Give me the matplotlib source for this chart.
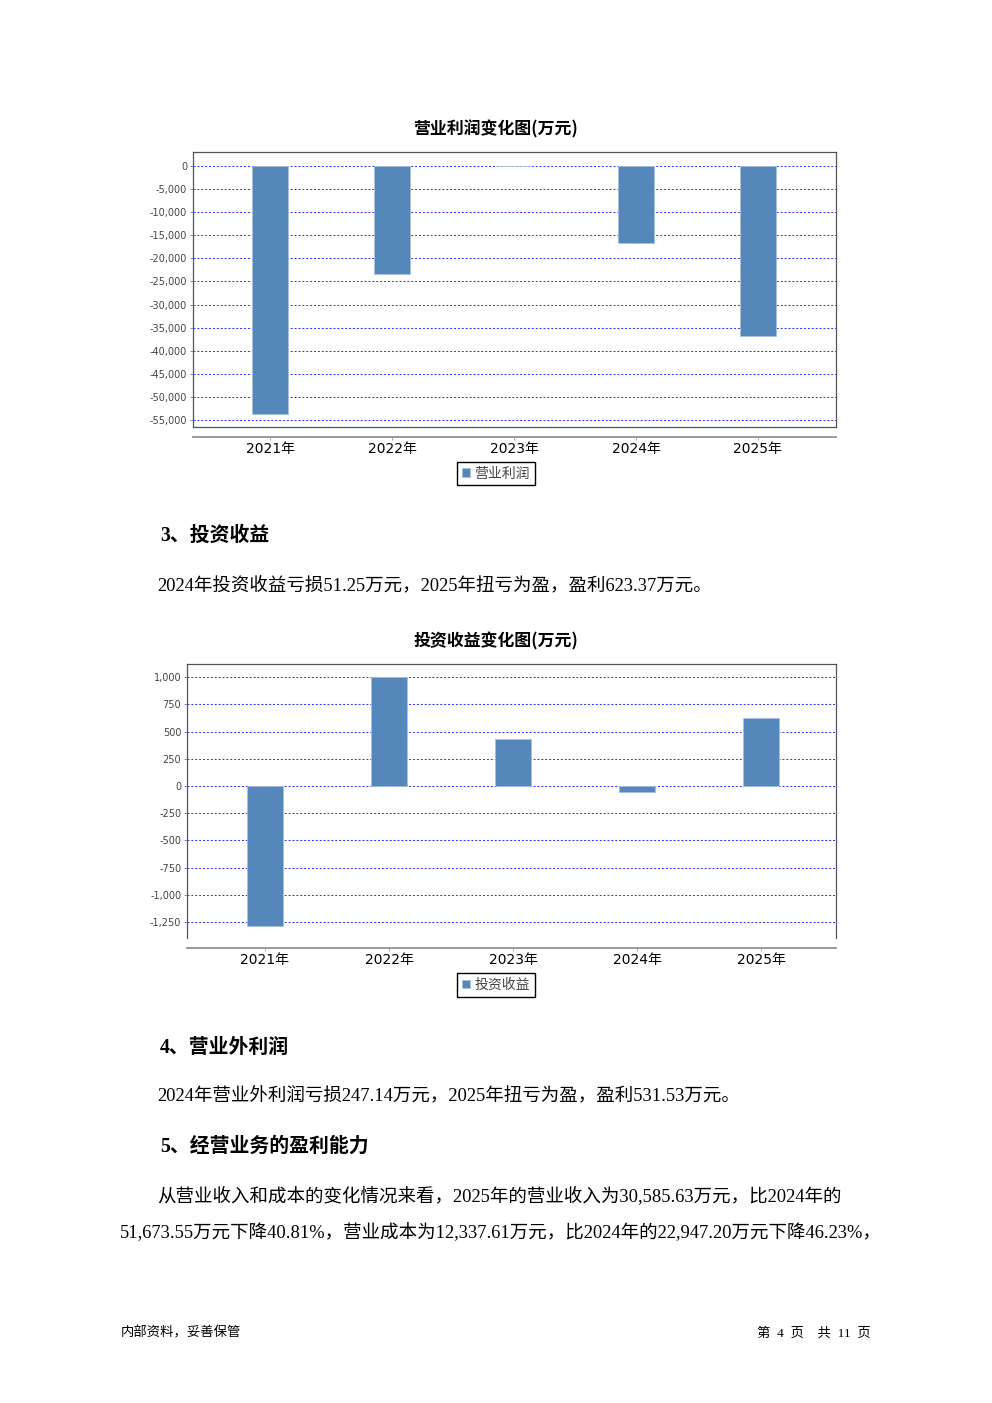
### Page with two bar charts (营业利润 / 投资收益) plus report text
import numpy as np
import matplotlib.pyplot as plt
from matplotlib.ticker import FuncFormatter

plt.rcParams['font.family'] = ['DejaVu Sans', 'Noto Sans CJK SC']
plt.rcParams['axes.unicode_minus'] = False

### Data
years       = ['2021年', '2022年', '2023年', '2024年', '2025年']
op_profit   = [-53600, -23500, -80, -16800, -36800]          # 营业利润 (万元)
inv_income  = [-1290, 1004, 432, -51.25, 623.37]             # 投资收益 (万元)
op_ticks    = list(range(0, -55001, -5000))
inv_ticks   = [1000, 750, 500, 250, 0, -250, -500, -750, -1000, -1250]

### Style
W, H        = 992, 1403
bar_color   = '#5587ba'
grid_color  = '#2a2aff'
cjk         = ['Noto Sans CJK SC', 'DejaVu Sans']
serif       = ['Liberation Serif', 'Noto Sans CJK SC']

fig = plt.figure(figsize=(W/100, H/100), dpi=100)

def rect(x0, y0, x1, y1):
    # pixel box -> figure fraction [left, bottom, width, height]
    return [x0/W, 1 - y1/H, (x1 - x0)/W, (y1 - y0)/H]

def bar_chart(box, values, ticks, ylim, xlim, title, title_y, label, legend_y, bottom_border):
    ax = fig.add_axes(rect(*box))
    x = np.arange(len(years))
    ax.bar(x, values, width=0.295, color=bar_color, edgecolor='#a9c1db',
           linewidth=0.6, label=label, zorder=2)
    ax.set_xlim(xlim)
    ax.set_ylim(ylim)
    ax.set_yticks(ticks)
    ax.yaxis.set_major_formatter(FuncFormatter(lambda v, p: f'{v:,.0f}'))
    ax.tick_params(axis='y', length=2, width=0.6, color='#777777', pad=2,
                   labelsize=7, labelcolor='#444444')
    ax.set_xticks(x)
    ax.set_xticklabels(years, fontsize=8, color='#333333')
    ax.tick_params(axis='x', length=2.5, width=0.6, color='#999999', pad=1.5)
    ax.grid(axis='y', color=grid_color, linestyle=(0, (2, 2)), linewidth=0.7)
    ax.set_axisbelow(True)
    for s in ['left', 'top', 'right']:
        ax.spines[s].set_color('#555555')
        ax.spines[s].set_linewidth(0.9)
    # category axis sits a little below the plot box
    ax.spines['bottom'].set_position(('outward', 6.8))
    ax.spines['bottom'].set_color('#9a9a9a')
    ax.spines['bottom'].set_linewidth(1.4)
    if bottom_border:
        ax.plot([0, 1], [0, 0], transform=ax.transAxes, color='#555555',
                linewidth=0.9, clip_on=False, zorder=5)
    fig.text(496/W, 1 - title_y/H, title, ha='center', va='center',
             fontsize=12.2, fontweight='bold', family=cjk)
    leg = ax.legend(loc='center', bbox_to_anchor=(496/W, 1 - legend_y/H),
                    bbox_transform=fig.transFigure, fancybox=False, framealpha=1,
                    edgecolor='black', borderpad=0.35, handlelength=0.55,
                    handleheight=0.55, handletextpad=0.3,
                    prop={'family': cjk, 'size': 10}, labelcolor='#444444')
    leg.get_frame().set_linewidth(1.0)
    return ax

### Chart 1: 营业利润
bar_chart((192.7, 152.3, 836, 427.3), op_profit, op_ticks, (-56500, 2890),
          (-0.634, 4.64), '营业利润变化图(万元)', 129, '营业利润', 473.5, True)

### Chart 2: 投资收益
bar_chart((186.8, 664, 836, 938.3), inv_income, inv_ticks, (-1401, 1122),
          (-0.63, 4.605), '投资收益变化图(万元)', 641, '投资收益', 985, False)

### Text blocks
def txt(x, y, s, size=13.3, bold=False, ha='left'):
    fig.text(x/W, 1 - y/H, s, ha=ha, va='center', fontsize=size,
             fontweight='bold' if bold else 'normal', family=serif)

txt(160, 536, '3、投资收益', 14.3, True)
txt(157, 585, '2024年投资收益亏损51.25万元，2025年扭亏为盈，盈利623.37万元。')
txt(160, 1048, '4、营业外利润', 14.3, True)
txt(157, 1097, '2024年营业外利润亏损247.14万元，2025年扭亏为盈，盈利531.53万元。')
txt(160, 1147, '5、经营业务的盈利能力', 14.3, True)
txt(157, 1196, '从营业收入和成本的变化情况来看，2025年的营业收入为30,585.63万元，比2024年的')
txt(120, 1233, '51,673.55万元下降40.81%，营业成本为12,337.61万元，比2024年的22,947.20万元下降46.23%，')

### Footer
txt(121, 1333, '内部资料，妥善保管', 9.6)
txt(871, 1333, '第  4  页    共  11  页', 9.6, ha='right')

fig.savefig('out.png', dpi=100, facecolor='white')
